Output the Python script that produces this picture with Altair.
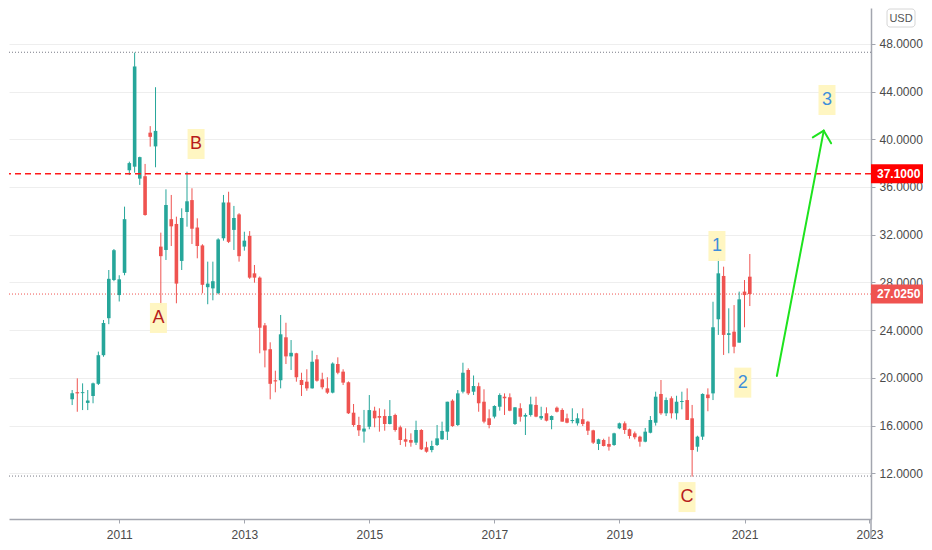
import altair as alt
import pandas as pd

# ---------------- data (monthly candles) ----------------
start_month = "2010-04-01"

opens = [18.2, 18.8, 18.72, 17.9, 18.48, 19.5, 21.9, 25.0, 28.2, 26.94,
         28.8, 37.4, 37.7, 36.7, 36.9, 40.55, 39.4, 31.0, 30.72, 33.3,
         32.9, 29.8, 33.9, 34.9, 32.6, 31.1, 27.6, 27.5, 27.1, 31.7,
         34.7, 32.4, 33.7, 31.0, 31.9, 28.76, 28.4, 24.4, 22.4, 19.8,
         19.8, 23.4, 21.8, 22.06, 19.82, 19.68, 19.12, 21.55, 19.88, 19.12,
         18.76, 21.16, 20.52, 19.63, 17.08, 16.05, 15.5, 15.9, 17.25, 16.8,
         16.8, 16.13, 16.89, 15.86, 14.85, 14.79, 14.57, 15.63, 14.18, 13.95,
         14.37, 14.85, 15.49, 18.09, 16.05, 18.84, 20.66, 18.84, 19.3, 18.0,
         16.61, 16.75, 17.58, 18.42, 18.37, 16.13, 17.45, 16.75, 16.89, 17.73,
         16.61, 17.03, 16.47, 17.5, 17.31, 16.61, 16.38, 16.19, 16.53, 16.33,
         15.6, 14.46, 14.79, 14.46, 14.37, 15.77, 16.19, 15.69, 15.35, 15.07,
         14.65, 15.4, 16.24, 18.65, 17.03, 18.29, 17.03, 17.98, 18.14, 16.61,
         14.23, 15.07, 18.6, 18.7, 24.91, 28.54, 23.6, 23.87, 22.95, 27.23,
         28.48]

highs = [18.98, 19.96, 19.54, 18.98, 19.6, 22.2, 24.85, 29.04, 30.8, 28.6,
         34.35, 38.12, 47.26, 38.54, 37.93, 41.1, 44.36, 32.17, 35.8, 35.33,
         33.51, 34.21, 37.28, 35.89, 33.37, 31.2, 29.74, 29.74, 31.7, 35.33,
         35.6, 34.41, 33.8, 32.25, 32.3, 29.46, 28.5, 24.6, 22.98, 20.6,
         25.27, 24.62, 23.17, 22.1, 20.43, 20.72, 22.28, 21.92, 20.43, 20.05,
         21.3, 21.72, 20.72, 19.7, 17.81, 16.74, 17.31, 18.56, 17.58, 17.45,
         17.36, 18.14, 17.0, 16.0, 15.77, 15.35, 16.41, 15.7, 14.65, 14.73,
         16.05, 16.33, 18.0, 18.2, 18.98, 21.27, 20.8, 20.2, 19.6, 19.04,
         17.36, 17.7, 18.7, 18.7, 18.7, 17.55, 17.87, 17.03, 18.42, 18.42,
         17.58, 17.53, 16.85, 17.6, 17.45, 17.0, 17.45, 17.03, 17.45, 16.4,
         15.65, 14.9, 14.9, 15.07, 15.4, 16.25, 16.35, 15.75, 15.5, 15.15,
         15.8, 16.8, 18.84, 19.82, 18.35, 18.45, 18.5, 18.84, 19.12, 17.73,
         15.15, 18.7, 19.12, 26.38, 30.02, 29.32, 25.83, 26.1, 27.23, 28.2,
         30.38]

lows = [17.72, 17.16, 17.3, 17.3, 17.87, 19.4, 21.77, 24.5, 28.1, 26.4,
        28.6, 37.0, 37.2, 36.17, 33.59, 39.38, 37.65, 26.1, 29.88, 31.05,
        26.25, 29.04, 32.67, 31.22, 30.02, 27.09, 26.17, 26.5, 27.0, 31.5,
        31.3, 30.72, 29.74, 30.66, 28.3, 27.98, 22.06, 20.88, 18.2, 18.79,
        19.12, 21.16, 20.66, 19.68, 18.48, 18.92, 19.1, 19.68, 19.04, 18.65,
        18.7, 20.3, 19.4, 16.97, 15.9, 15.13, 14.57, 15.69, 15.86, 15.49,
        15.57, 16.1, 15.49, 14.37, 14.23, 14.23, 14.37, 13.95, 13.73, 13.76,
        14.29, 14.8, 14.79, 15.9, 15.96, 18.7, 18.56, 18.56, 17.16, 16.19,
        15.77, 16.6, 17.25, 16.89, 17.2, 16.05, 16.33, 15.21, 16.75, 16.7,
        16.47, 16.35, 15.69, 17.1, 16.33, 16.19, 16.19, 16.0, 15.96, 15.21,
        14.46, 13.95, 14.25, 13.9, 14.3, 15.7, 15.3, 14.9, 14.85, 14.23,
        14.6, 15.35, 16.0, 16.9, 16.8, 16.6, 16.5, 17.36, 16.47, 11.72,
        13.81, 14.8, 17.2, 18.14, 23.6, 21.92, 22.06, 22.06, 22.95, 24.24,
        26.02]

closes = [18.7, 18.7, 18.8, 18.1, 19.54, 21.9, 24.6, 28.3, 30.7, 28.26,
          33.3, 38.0, 46.1, 38.5, 33.65, 40.2, 40.7, 30.2, 34.49, 32.7,
          27.9, 33.4, 34.8, 32.5, 31.05, 27.8, 27.9, 28.1, 31.6, 34.7,
          31.4, 33.4, 30.2, 31.5, 28.4, 28.4, 24.2, 22.3, 19.5, 19.7,
          23.65, 21.8, 22.1, 20.05, 19.4, 19.12, 21.35, 19.76, 19.21, 18.76,
          21.2, 20.43, 19.6, 17.03, 16.05, 15.6, 15.75, 17.3, 16.61, 16.66,
          16.13, 16.8, 15.63, 14.79, 14.65, 14.57, 15.63, 14.01, 13.81, 14.29,
          14.93, 15.55, 18.0, 15.96, 18.7, 20.43, 18.7, 19.32, 17.87, 16.33,
          16.05, 17.64, 18.56, 18.29, 17.25, 17.53, 16.75, 16.89, 17.78, 16.75,
          16.8, 16.41, 16.8, 17.16, 16.33, 16.24, 16.47, 16.61, 16.13, 15.57,
          14.57, 14.85, 14.29, 14.23, 15.35, 16.19, 15.63, 15.13, 15.02, 14.65,
          15.49, 16.47, 18.42, 17.03, 18.14, 17.03, 18.0, 18.06, 16.47, 13.95,
          15.07, 18.65, 18.3, 24.24, 28.76, 23.6, 23.74, 22.61, 26.58, 26.94,
          27.025]

# horizontal levels
range_high = 47.29
range_low = 11.77
resistance = 37.1
last_price = 27.025

# wave labels
label_text = ["A", "B", "C", "1", "2", "3"]
label_date = ["2011-08-18", "2012-03-25", "2020-01-31", "2020-07-24", "2020-12-22", "2022-04-28"]
label_price = [25.02, 39.6, 10.01, 31.05, 19.6, 43.29]
label_kind = ["letter", "letter", "letter", "number", "number", "number"]

# projection arrow (shaft + two head strokes)
arrow_x0 = ["2021-07-09", "2022-04-09", "2022-04-09"]
arrow_y0 = [20.16, 40.72, 40.72]
arrow_x1 = ["2022-04-09", "2022-02-04", "2022-05-22"]
arrow_y1 = [40.72, 40.16, 39.66]

year_ticks = [2011, 2013, 2015, 2017, 2019, 2021, 2023]
price_ticks = [12, 16, 20, 24, 28, 32, 36, 40, 44, 48]

# ---------------- tables ----------------
dates = pd.date_range(start_month, periods=len(opens), freq="MS").strftime("%Y-%m-%d")
df = pd.DataFrame({"date": dates, "open": opens, "high": highs, "low": lows, "close": closes})
df["dir"] = ["up" if c >= o else "down" for o, c in zip(opens, closes)]

labels_df = pd.DataFrame({"date": label_date, "price": label_price,
                          "text": label_text, "kind": label_kind})
arrow_df = pd.DataFrame({"x0": arrow_x0, "y0": arrow_y0, "x1": arrow_x1, "y1": arrow_y1})

FONT = "Liberation Sans, Arial, sans-serif"
UP = "#26a69a"
DOWN = "#ef5350"
AXIS_GRAY = "#a3a6af"
PLOT_W = 862
PLOT_H = 511

x_scale = alt.Scale(type="utc", padding=0,
                    domain=[alt.DateTime(year=2009, month=3, date=28, utc=True),
                            alt.DateTime(year=2023, month=1, date=10, utc=True)])
y_scale = alt.Scale(domain=[8.17, 51.0], nice=False, zero=False, padding=0)

x_axis = alt.Axis(values=[alt.DateTime(year=y, month=1, date=1, utc=True) for y in year_ticks],
                  format="%Y", title=None, grid=False, domainColor=AXIS_GRAY, domainWidth=1.5,
                  tickColor=AXIS_GRAY, tickSize=4, labelPadding=6, labelFont=FONT,
                  labelFontSize=12, labelColor="#4a4a4a", labelFlush=False, labelOverlap=False)
y_axis = alt.Axis(orient="right", values=price_ticks, format=".4f", title=None, grid=True,
                  gridColor="#eeeeee", domainColor=AXIS_GRAY, domainWidth=1.5, tickColor=AXIS_GRAY,
                  tickSize=4, labelPadding=4, labelFont=FONT, labelFontSize=12,
                  labelColor="#4a4a4a", zindex=0)

X = alt.X("date:T", scale=x_scale, axis=x_axis)
color = alt.Color("dir:N", scale=alt.Scale(domain=["up", "down"], range=[UP, DOWN]), legend=None)

# horizontal reference lines
range_lines = alt.Chart(pd.DataFrame({"p": [range_high, range_low]})).mark_rule(
    color="#787b86", strokeDash=[1, 2], strokeWidth=1).encode(
    y=alt.Y("p:Q", scale=y_scale, axis=y_axis))
price_line = alt.Chart(pd.DataFrame({"p": [last_price]})).mark_rule(
    color=DOWN, strokeDash=[1, 2], strokeWidth=1).encode(y=alt.Y("p:Q", scale=y_scale))
res_line = alt.Chart(pd.DataFrame({"p": [resistance]})).mark_rule(
    color="#ff1a1a", strokeDash=[6, 4], strokeWidth=1.5).encode(y=alt.Y("p:Q", scale=y_scale))

# candles
wicks = alt.Chart(df).mark_rule(strokeWidth=1).encode(
    x=X, y=alt.Y("low:Q", scale=y_scale), y2="high:Q", color=color)
bodies = alt.Chart(df).mark_bar(size=3.6).encode(
    x=X, y=alt.Y("open:Q", scale=y_scale), y2="close:Q", color=color)

# wave labels
lab_boxes = alt.Chart(labels_df).mark_tick(orient="horizontal", size=17, thickness=30,
                                           color="#fff6bf", opacity=0.95).encode(
    x=X, y=alt.Y("price:Q", scale=y_scale))
lab_text = alt.Chart(labels_df).mark_text(font=FONT, fontSize=18, baseline="middle",
                                          align="center").encode(
    x=X, y=alt.Y("price:Q", scale=y_scale), text="text:N",
    color=alt.Color("kind:N", scale=alt.Scale(domain=["letter", "number"],
                                               range=["#b71c1c", "#3f8fdb"]), legend=None))

# arrow
arrow = alt.Chart(arrow_df).mark_rule(color="#1ee31e", strokeWidth=2, strokeCap="round").encode(
    x=alt.X("x0:T", scale=x_scale), x2="x1:T",
    y=alt.Y("y0:Q", scale=y_scale), y2="y1:Q")

# price tags on right axis
tags_df = pd.DataFrame({"p": [resistance, last_price],
                        "lbl": [f"{resistance:.4f}", f"{last_price:.4f}"],
                        "kind": ["res", "last"]})
tag_boxes = alt.Chart(tags_df).mark_tick(orient="horizontal", size=52, thickness=19, opacity=1).encode(
    x=alt.value(PLOT_W + 26), y=alt.Y("p:Q", scale=y_scale),
    color=alt.Color("kind:N", scale=alt.Scale(domain=["res", "last"], range=["#ff0000", DOWN]),
                    legend=None))
tag_text = alt.Chart(tags_df).mark_text(font=FONT, fontSize=12, align="left", baseline="middle",
                                        color="white", fontWeight="bold").encode(
    x=alt.value(PLOT_W + 6), y=alt.Y("p:Q", scale=y_scale), text="lbl:N")

# USD badge and panel divider
usd_box = alt.Chart(pd.DataFrame({"t": ["USD"]})).mark_rect(
    fill="white", stroke="#d6d6d6", strokeWidth=1, cornerRadius=3).encode(
    x=alt.value(PLOT_W + 16), x2=alt.value(PLOT_W + 44), y=alt.value(1), y2=alt.value(19))
usd_text = alt.Chart(pd.DataFrame({"t": ["USD"]})).mark_text(
    font=FONT, fontSize=11, color="#555555", align="center",
    baseline="middle").encode(x=alt.value(PLOT_W + 30), y=alt.value(10.5), text="t:N")
divider = alt.Chart(pd.DataFrame({"t": [0]})).mark_rule(color=AXIS_GRAY, strokeWidth=1.5).encode(
    x=alt.value(PLOT_W), y=alt.value(PLOT_H), y2=alt.value(PLOT_H + 20))

chart = alt.layer(
    range_lines, price_line, wicks, bodies, res_line,
    lab_boxes, lab_text, arrow, tag_boxes, tag_text, usd_box, usd_text, divider
).resolve_scale(color="independent").properties(
    width=PLOT_W, height=PLOT_H, padding={"left": 0, "top": 0, "right": 0, "bottom": 0},
    background="white"
).configure_view(stroke=None)

chart.save("out.html", embed_options={"renderer": "svg", "actions": False})
